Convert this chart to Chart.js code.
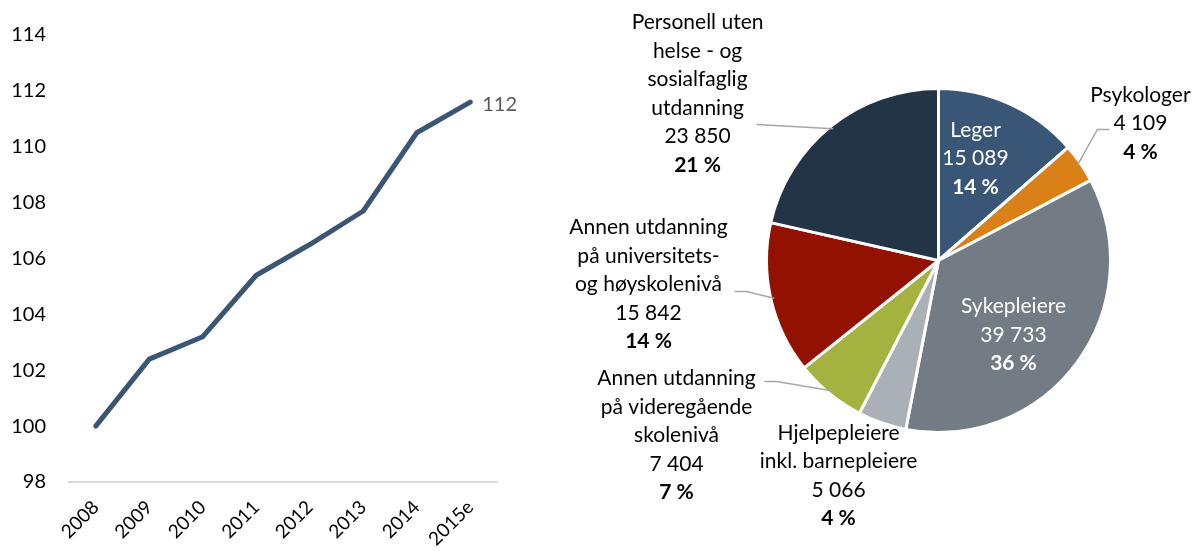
<!DOCTYPE html>
<html>
<head>
<meta charset="utf-8">
<script src="https://cdn.jsdelivr.net/npm/chart.js@4.4.0/dist/chart.umd.min.js"></script>
<style>
    html, body { margin: 0; padding: 0; background: #fff; }
    #wrap { position: relative; width: 1199px; height: 551px; }
    #left { position: absolute; left: 0; top: 0; width: 560px; height: 551px; }
    #right { position: absolute; left: 560px; top: 0; width: 639px; height: 551px; }
</style>
</head>
<body>
<div id="wrap">
    <div id="left"><canvas id="lineChart"></canvas></div>
    <div id="right"><canvas id="pieChart"></canvas></div>
</div>
<script>
// Line chart data
const years = ['2008', '2009', '2010', '2011', '2012', '2013', '2014', '2015e'];
const indexValues = [100, 102.4, 103.2, 105.4, 106.5, 107.7, 110.5, 111.6];
const yTicks = [98, 100, 102, 104, 106, 108, 110, 112, 114];

// Pie chart data
const groupNames = [
    ['Leger'],
    ['Psykologer'],
    ['Sykepleiere'],
    ['Hjelpepleiere', 'inkl. barnepleiere'],
    ['Annen utdanning', 'på videregående', 'skolenivå'],
    ['Annen utdanning', 'på universitets-', 'og høyskolenivå'],
    ['Personell uten', 'helse - og', 'sosialfaglig', 'utdanning']
];
const groupCounts = [15089, 4109, 39733, 5066, 7404, 15842, 23850];
const groupShares = [14, 4, 36, 4, 7, 14, 21];

const groupColors = ['#3A5676', '#D98018', '#737B84', '#A9B0B6', '#A4B23F', '#931100', '#243447'];

// label placement, relative to pie centre in units of radius
const labelPos = [
    [0.215, -0.593], [1.174, -0.797], [0.436, 0.433], [-0.581, 1.25],
    [-1.523, 1.017], [-1.686, 0.14], [-1.401, -0.971]
];
const labelInside = [true, false, true, false, false, false, false];
// leader line: attach offset from label centre (px) and horizontal stub length
const leaders = [null, [-31, 6, -12], null, null, [88, -54, 12], [86, 7, 12], [59, 31, 0]];

const FONT = 'Lato, "Open Sans", sans-serif';
const LINE_H = 28.5;

function fmtThousands(n) {
    return String(n).replace(/\B(?=(\d{3})+(?!\d))/g, ' ');
}

const endLabel = {
    id: 'endLabel',
    afterDatasetsDraw(chart) {
        const meta = chart.getDatasetMeta(0);
        const last = meta.data[meta.data.length - 1];
        const ctx = chart.ctx;
        ctx.save();
        ctx.font = '20px ' + FONT;
        ctx.fillStyle = '#595959';
        ctx.textAlign = 'left';
        ctx.textBaseline = 'middle';
        ctx.fillText(String(Math.round(indexValues[indexValues.length - 1])), last.x + 12, last.y + 2);
        ctx.restore();
    }
};

const pieLabels = {
    id: 'pieLabels',
    afterDraw(chart) {
        const ctx = chart.ctx;
        const meta = chart.getDatasetMeta(0);
        ctx.save();
        meta.data.forEach((arc, i) => {
            const p = arc.getProps(['x', 'y', 'startAngle', 'endAngle', 'outerRadius'], true);
            const R = p.outerRadius;
            const cx = p.x + labelPos[i][0] * R;
            const cy = p.y + labelPos[i][1] * R;
            const lines = groupNames[i].concat([fmtThousands(groupCounts[i]), groupShares[i] + ' %']);

            // leader line
            if (leaders[i]) {
                const mid = (p.startAngle + p.endAngle) / 2;
                const ex = p.x + Math.cos(mid) * R * 0.98;
                const ey = p.y + Math.sin(mid) * R * 0.98;
                const ax = cx + leaders[i][0];
                const ay = cy + leaders[i][1];
                ctx.strokeStyle = '#A6A6A6';
                ctx.lineWidth = 1.5;
                ctx.beginPath();
                ctx.moveTo(ax, ay);
                ctx.lineTo(ax + leaders[i][2], ay);
                ctx.lineTo(ex, ey);
                ctx.stroke();
            }

            ctx.textAlign = 'center';
            ctx.textBaseline = 'middle';
            ctx.fillStyle = labelInside[i] ? '#FFFFFF' : '#000000';
            const top = cy - (lines.length - 1) / 2 * LINE_H;
            lines.forEach((txt, j) => {
                const bold = j === lines.length - 1;
                ctx.font = (bold ? 'bold ' : '') + '21px ' + FONT;
                ctx.fillText(txt, cx, top + j * LINE_H);
            });
        });
        ctx.restore();
    }
};

new Chart(document.getElementById('lineChart').getContext('2d'), {
    type: 'line',
    data: {
        labels: years,
        datasets: [{
            data: indexValues,
            borderColor: '#3B5675',
            borderWidth: 5,
            pointRadius: 0,
            tension: 0,
            borderCapStyle: 'round',
            borderJoinStyle: 'round'
        }]
    },
    options: {
        responsive: true,
        maintainAspectRatio: false,
        animation: false,
        layout: { padding: { left: 10, top: 21, right: 63, bottom: 0 } },
        plugins: { legend: { display: false }, tooltip: { enabled: false } },
        scales: {
            x: {
                offset: true,
                grid: { display: false, drawTicks: false },
                border: { display: true, color: '#D9D9D9', width: 2 },
                ticks: {
                    font: { family: FONT, size: 19 },
                    color: '#000',
                    minRotation: 45,
                    maxRotation: 45,
                    padding: 14
                },
                afterFit(scale) { scale.height = 69; }
            },
            y: {
                min: 98,
                max: 114,
                afterBuildTicks(scale) { scale.ticks = yTicks.map(v => ({ value: v })); },
                grid: { display: false, drawTicks: false },
                border: { display: false },
                ticks: {
                    font: { family: FONT, size: 20 },
                    color: '#000',
                    padding: 23
                },
                afterFit(scale) { scale.width = 59; }
            }
        }
    },
    plugins: [endLabel]
});

new Chart(document.getElementById('pieChart').getContext('2d'), {
    type: 'pie',
    data: {
        labels: groupNames.map(n => n.join(' ')),
        datasets: [{
            data: groupCounts,
            backgroundColor: groupColors,
            borderColor: '#FFFFFF',
            borderWidth: 3
        }]
    },
    options: {
        responsive: true,
        maintainAspectRatio: false,
        animation: false,
        layout: { padding: { left: 205, right: 87, top: 87, bottom: 117 } },
        plugins: { legend: { display: false }, tooltip: { enabled: false } }
    },
    plugins: [pieLabels]
});
</script>
</body>
</html>
